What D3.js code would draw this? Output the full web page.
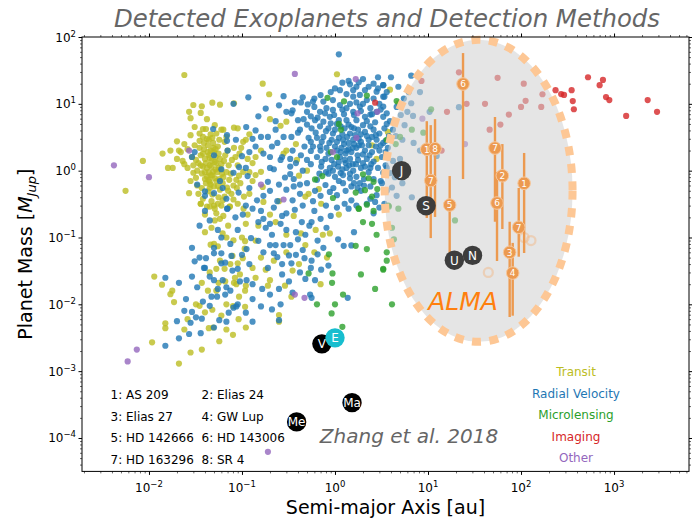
<!DOCTYPE html>
<html>
<head>
<meta charset="utf-8">
<script src="https://cdn.jsdelivr.net/npm/d3@7/dist/d3.min.js"></script>
<style>
  body { margin: 0; background: #fff; }
  svg { font-family: "DejaVu Sans", sans-serif; }
</style>
</head>
<body>
<div id="chart"></div>
<script>
// semi-major axis [au], planet mass [M_Jup]
const transit = [
  [0.024,27],[0.0056,0.5],[0.0086,1.4],
  [0.030,9.6],[0.037,9.2],[0.048,10.4],[0.058,9.7],[0.082,10.2],[0.027,7.6],[0.036,7.3],[0.028,6.1],[0.042,5.9],
  [0.031,4.5],[0.038,4.2],[0.041,4.2],[0.051,4.8],[0.060,4.1],[0.063,4.1],[0.082,4.4],[0.090,4.3],[0.028,3.4],
  [0.038,3.2],[0.046,3.5],[0.053,3.6],[0.035,2.8],[0.020,2.75],[0.024,2.5],[0.017,2.0],[0.014,1.8],[0.016,1.1],
  [0.018,1.1],[0.020,1.5],[0.022,1.9],[0.026,2.1],[0.023,1.4],[0.026,1.1],[0.024,1.25],[0.030,0.93],[0.033,1.0],
  [0.032,0.78],[0.037,0.91],[0.042,0.81],[0.045,0.68],[0.041,0.65],[0.038,1.15],[0.045,1.2],[0.053,1.3],[0.049,0.96],
  [0.051,0.77],[0.063,0.8],[0.073,0.73],[0.081,0.6],[0.087,0.73],[0.105,0.41],[0.093,0.84],[0.085,1.6],[0.078,1.45],
  [0.082,2.2],[0.065,2.7],[0.103,2.7],[0.110,2.9],[0.094,1.8],[0.103,0.96],[0.027,0.46],[0.036,0.32],[0.042,0.29],
  [0.050,0.30],[0.055,0.32],[0.045,0.55],[0.043,0.49],[0.048,0.44],[0.055,0.59],[0.074,0.29],[0.065,0.41],[0.081,0.37],
  [0.021,2.0],[0.040,1.5],[0.044,1.7],[0.047,1.4],[0.050,1.9],[0.052,1.6],[0.039,2.1],[0.043,2.4],[0.046,2.0],
  [0.055,2.3],[0.058,1.5],[0.036,1.7],[0.034,1.3],[0.042,1.1],[0.048,0.85],[0.052,1.05],[0.056,1.1],[0.060,1.25],
  [0.044,0.95],[0.040,0.75],[0.046,0.62],[0.050,0.58],[0.037,0.55],[0.033,0.6],[0.029,1.6],[0.031,2.4],[0.035,3.6],
  [0.044,2.9],[0.049,2.6],[0.057,2.9],[0.068,3.2],[0.070,2.0],[0.066,1.7],[0.072,1.2],[0.068,0.95],[0.062,0.65],
  [0.058,0.52],[0.071,0.5],[0.076,0.9],[0.090,1.2],[0.098,2.2],[0.115,1.5],[0.12,3.5],[0.13,0.7],
  [0.041,1.3],[0.043,1.9],[0.045,1.55],[0.047,1.15],[0.049,2.2],[0.051,1.35],[0.054,0.95],[0.056,1.8],[0.059,1.05],
  [0.038,1.8],[0.036,1.2],[0.040,0.95],[0.044,0.72],[0.046,0.85],[0.053,0.7],[0.057,0.75],[0.061,0.9],[0.064,1.4],
  [0.039,2.6],[0.042,3.0],[0.048,3.1],[0.052,2.1],[0.035,2.2],[0.032,1.45],[0.030,1.2],[0.028,0.7],[0.034,0.45],
  [0.038,0.38],[0.047,0.35],[0.056,0.4],[0.062,0.36],[0.069,0.56],[0.077,0.45],[0.088,0.55],[0.096,0.65],[0.12,0.95],
  [0.14,1.6],[0.16,2.0],[0.12,0.45],[0.20,0.22],[0.25,0.35],[0.15,0.15],[0.30,0.06],[0.22,0.045],[0.16,0.05],
  [0.13,0.035],[0.41,0.04],[0.60,0.06],[0.095,0.028],[0.075,0.04],[0.058,0.045],[0.032,0.01],[0.026,0.006],
  [0.024,0.0042],[0.035,0.0095],[0.060,0.0068],[0.080,0.0035],[0.11,0.0045],
  [0.0114,0.026],[0.0138,0.0197],[0.0178,0.016],[0.017,0.0142],[0.0186,0.0108],[0.015,0.0052],[0.015,0.0044],
  [0.0108,0.0027],[0.021,0.0013],[0.028,0.0019],[0.037,0.0021],[0.040,0.0076],[0.048,0.0083],[0.044,0.0044],
  [0.057,0.0028],[0.068,0.0042],[0.092,0.006],[0.068,0.01],[0.108,0.0092],[0.093,0.013],[0.037,0.021],[0.043,0.016],
  [0.053,0.016],[0.056,0.021],[0.066,0.022],[0.082,0.021],[0.087,0.020],[0.108,0.016],[0.110,0.019],[0.045,0.030],
  [0.053,0.034],[0.065,0.034],[0.046,0.078],[0.055,0.074],[0.079,0.053],[0.090,0.041],[0.102,0.049],[0.108,0.088],
  [0.081,0.091],[0.100,0.10],[0.040,0.12],[0.062,0.115],[0.068,0.10],[0.071,0.15],[0.047,0.14],[0.051,0.18],
  [0.058,0.19],[0.040,0.22],[0.053,0.23],[0.063,0.21],[0.045,0.29],[0.036,0.32],[0.051,0.27],[0.060,0.30],[0.074,0.29],
  [0.090,0.32],[0.104,0.27],[0.115,0.22],[0.110,0.16],[0.107,0.068],[0.084,0.025],[0.050,0.08],[0.080,0.0094],[0.049,0.0045],
  [1.05,27.7],[0.167,20],[0.196,13.9],[3.9,16.3],[0.20,5.9],[0.26,4.7],[0.30,5.4],[0.30,2.0],[0.28,1.8],[0.38,2.5],
  [0.39,1.45],[0.13,1.3],[0.50,1.0],[0.41,0.84],[0.16,0.96],[0.14,0.86],[0.167,0.57],[0.17,0.34],[0.48,0.41],[0.52,0.45],
  [0.67,0.53],[0.71,0.32],[2.5,2.4],[2.8,1.5],[0.30,0.11],[0.43,0.115],[0.62,0.13],[0.74,0.11],[0.88,0.115],[1.1,0.22],
  [0.36,0.21],[0.23,0.17],[0.14,0.09],[0.48,0.077],[0.35,0.032],[0.18,0.033],[0.14,0.025],[0.20,0.023],[0.19,0.019],
  [0.29,0.019],[0.70,0.020],[0.82,0.050],[0.34,0.013],[0.25,0.0069],[0.25,0.0055],[4.8,10.2],[3.7,3.8]
];
const radialVelocity = [
  [0.117,12.5],[0.081,10],[0.111,4.5],[0.049,4.2],[0.069,3.4],[0.069,2.8],[0.086,2.9],[0.070,2.0],[0.10,1.65],
  [0.115,0.83],[0.11,1.1],[0.093,1.13],[0.081,0.93],[0.060,1.05],[0.058,0.7],[0.062,0.55],[0.050,1.7],[0.031,1.9],
  [0.029,1.6],[0.033,0.62],[0.040,0.49],[0.040,0.42],[0.050,0.46],[0.068,0.38],[0.070,0.27],[0.092,0.47],
  [0.029,0.07],[0.031,0.044],[0.041,0.049],[0.039,0.035],[0.029,0.026],[0.021,0.021],[0.015,0.025],[0.050,0.058],
  [0.060,0.058],[0.060,0.10],[0.050,0.07],[0.077,0.053],[0.060,0.041],[0.066,0.042],[0.079,0.032],[0.090,0.034],
  [0.062,0.023],[0.068,0.018],[0.055,0.017],[0.045,0.026],[0.050,0.023],[0.047,0.013],[0.054,0.013],[0.066,0.014],
  [0.081,0.0089],[0.090,0.010],[0.087,0.0093],[0.112,0.023],[0.112,0.067],[0.102,0.22],[0.069,0.27],[0.040,0.25],
  [0.029,0.0077],[0.032,0.0064],[0.037,0.0061],[0.020,0.0056],[0.028,0.0053],[0.027,0.0036],[0.036,0.0037],
  [0.021,0.0031],[0.015,0.0024],[0.057,0.0058],[0.068,0.0055],[0.050,0.0045],
  [0.13,0.27],[0.15,0.17],[0.17,0.19],[0.20,0.16],[0.27,0.21],[0.30,0.23],[0.37,0.26],[0.26,0.16],[0.44,0.17],
  [0.53,0.15],[0.56,0.17],[0.70,0.19],[0.90,0.21],[0.81,0.14],[1.08,0.094],[1.24,0.075],[1.5,0.076],[1.6,0.12],
  [1.4,0.27],[2.2,0.32],[2.6,0.23],[0.125,0.098],[0.15,0.089],[0.17,0.06],[0.20,0.077],[0.23,0.077],[0.22,0.058],
  [0.24,0.051],[0.28,0.077],[0.33,0.077],[0.32,0.054],[0.34,0.041],[0.40,0.094],[0.47,0.049],[0.56,0.045],[0.65,0.056],
  [0.48,0.024],[0.61,0.023],[0.71,0.033],[0.32,0.022],[0.25,0.017],[0.165,0.017],[0.13,0.012],[0.16,0.0093],
  [0.21,0.0084],[0.26,0.010],[0.35,0.015],[0.54,0.014],[0.56,0.0125],[1.37,0.0125],[0.13,0.0055],[0.25,0.0058],
  [0.18,0.14],[0.21,0.11],[0.30,0.13],[0.38,0.12],[0.48,0.11],[0.65,0.09],[0.75,0.07],[0.45,0.065],[0.38,0.055],
  [0.27,0.04],[0.19,0.035],[0.12,0.04],[0.10,0.055],[0.095,0.022],[0.13,0.02],[0.42,0.03],[0.55,0.035],[0.85,0.038],
  [0.27,0.028],[0.20,0.014],[0.11,0.0075],[0.075,0.016],[0.038,0.011],[0.033,0.018],[0.025,0.012],[0.024,0.008],
  [0.045,0.0095],[0.072,0.0075],[0.040,0.035],[0.035,0.05],[0.075,0.08],[0.09,0.13],[0.085,0.2],[0.055,0.13],
  [0.035,0.15],[0.045,0.18],
  [1.1,55],[1.2,20.7],[1.45,19.6],[1.7,18],[2.0,23.5],[2.6,20],[3.3,19],[0.37,10.6],[0.43,10.5],[0.51,9.8],[0.60,9.0],
  [0.30,7.6],[0.35,8.0],[0.46,5.9],[0.40,3.7],[0.23,5.5],[0.14,4.0],[0.21,2.3],[0.33,1.5],[0.50,1.45],[0.55,1.97],
  [0.22,1.05],[0.33,0.89],[0.29,0.79],[0.19,0.68],[0.145,0.36],[0.24,0.35],[0.42,0.45],[0.61,0.50],[0.79,0.61],
  [0.96,0.55],[1.05,0.43],[1.27,0.32],[1.5,0.36],[2.7,0.34],[3.3,0.93],[2.4,1.1],
  [1.33,14],[1.57,12.8],[1.85,13.6],[2.2,11.4],[1.13,9.6],[0.95,8.1],[0.81,8.6],[0.69,7.6],[1.33,8.6],[1.57,7.6],
  [1.85,9.1],[2.4,8.6],[2.8,7.6],[3.3,6.4],[2.1,6.4],[1.7,5.7],[1.33,5.7],[1.1,5.7],[0.88,6.4],[0.75,5.4],[0.61,5.7],
  [0.56,4.3],[0.69,4.6],[0.85,4.3],[1.0,4.1],[1.27,4.3],[1.45,3.6],[1.77,4.1],[2.1,3.8],[2.6,4.1],[3.0,3.6],[3.4,4.3],
  [0.52,3.1],[0.64,3.1],[0.75,3.2],[0.92,2.9],[1.1,3.1],[1.22,2.9],[1.4,2.6],[1.57,2.9],[1.9,2.7],[2.3,2.9],[2.8,2.9],
  [3.3,2.6],[0.47,2.3],[0.58,2.3],[0.69,2.3],[0.81,2.2],[1.0,2.3],[1.17,2.2],[1.33,2.0],[1.5,1.9],[1.7,2.2],[2.1,2.0],
  [2.5,1.9],[3.0,2.0],[0.64,1.6],[0.79,1.5],[0.92,1.45],[1.13,1.6],[1.27,1.45],[1.45,1.5],[1.77,1.45],[2.2,1.5],
  [2.6,1.37],[0.71,1.15],[0.88,1.1],[1.08,1.15],[1.33,1.1],[1.57,1.0],[1.9,1.1],[1.0,0.81],[1.22,0.86],[1.45,0.77],
  [1.7,0.81],[1.22,0.65],[1.5,0.58],[1.85,0.65],[2.4,0.58],[2.8,0.43],[0.64,0.73],[0.50,0.65],[0.36,0.58],[0.30,0.52],
  [0.38,1.3],[0.45,1.0],[0.33,1.15],[0.26,1.45],[0.20,1.6],[0.17,1.8],[0.14,2.3],[0.16,3.2],[0.19,3.2],[0.23,4.1],
  [0.28,3.2],[0.34,3.2],[0.42,4.1],[0.40,5.7],[0.34,7.2],[0.50,7.6],[0.58,10.8],[0.75,10.8],[0.95,11.4],[1.13,16],
  [1.57,16],[2.1,16],[2.8,15.2],[3.3,12.8],[3.3,9.1],
  [1.2,3.5],[1.35,3.2],[1.5,4.5],[1.65,3.4],[1.8,3.0],[1.95,2.4],[1.6,2.5],[1.25,2.5],[1.4,2.1],[1.15,1.9],[1.05,2.7],
  [0.95,3.6],[1.75,1.7],[2.0,1.3],[1.55,1.25],[1.3,1.3],[1.1,1.35],[0.85,1.8],[0.72,2.7],[2.3,2.4],[2.5,3.2],[2.0,4.8],
  [1.6,6.8],[1.25,7.0],[1.05,5.0],[2.7,5.3],[2.4,6.9],[3.0,10],[2.6,12],[2.0,10],[1.7,10.5],[0.95,1.0],[1.45,0.9],
  [2.05,0.75],[2.3,0.95],[1.9,0.5],[1.1,0.7],[0.85,0.9],
  [0.6,12],[0.7,13.5],[0.9,15],[1.0,17],[1.4,22],[1.8,21],[2.3,18],[2.9,17],[3.6,15],[0.45,12.5],[0.55,6.5],[0.65,6.2],
  [0.78,7.2],[0.98,6.8],[1.2,8.2],[1.45,10],[1.9,7.8],[2.2,5.5],[2.5,7.0],[3.1,8.2],[3.6,5.0],[3.8,3.3],[0.5,4.9],
  [0.62,3.7],[0.8,3.9],[0.9,5.1],[1.15,4.6],[1.4,4.9],[1.6,4.3],[1.9,3.5],[2.2,3.3],[2.4,4.6],[2.75,3.4],[3.1,2.4],
  [3.5,2.8],[0.55,2.7],[0.7,2.0],[0.87,2.6],[1.05,2.0],[1.3,1.8],[1.55,2.2],[1.8,2.4],[2.0,1.75],[2.35,1.7],[2.75,2.3],
  [3.2,1.6],[3.5,1.9],[0.55,1.25],[0.72,1.35],[0.98,1.25],[1.2,1.05],[1.42,1.2],[1.68,1.25],[2.1,1.15],[2.45,1.25],
  [2.9,1.1],[3.5,1.2],[0.8,0.95],[0.68,0.9],[1.15,0.92],[1.6,0.65],[1.75,0.55],[2.05,0.6],[2.6,0.75],[3.1,0.7],[3.6,0.5],
  [1.3,0.5],[0.88,0.48],[0.7,0.42],[0.58,0.35],[0.8,0.3],[1.05,0.28],[1.7,0.3],[2.4,0.38],[3.0,0.28],[0.2,0.5],
  [0.17,0.42],[0.25,0.62],[0.12,0.55],[0.11,0.3],[0.16,0.25],[0.22,0.28],[0.35,0.36],[0.45,0.3],[0.6,0.25],[0.12,1.9],
  [0.13,3.0],[0.15,6.5],[0.18,8.5],[0.25,9.5],[0.28,13],[0.2,1.1],[0.24,2.6],[0.27,1.6],[0.35,2.0],[0.43,1.7],
  [0.36,0.75],[0.42,0.62],
  [6.6,26.4],[8.2,15],[6.2,15],[6.6,10.2],[6.9,6.6],[6.0,7.6],[5.1,6.8],[7.0,2.6],[8.2,2.0],[12.4,1.66],[6.7,0.40],
  [5.3,0.65],[4.6,0.42],[4.1,0.56],[5.3,2.9],[4.2,4.1],[3.6,7.2],[3.3,19],[4.8,18],[3.4,12.8],[4.2,1.4],[5.0,1.5],
  [3.9,0.92],[3.2,0.65],[3.4,0.32],[21.5,8.9],[10.4,7.6],[3.7,2.2],[4.5,3.3],[3.6,1.1],[4.4,0.8],[3.9,5.5],[4.6,9],
  [5.6,4.8],[4.0,25],[2.9,25],[5.5,12]
];
const microlensing = [
  [0.83,12.3],[1.25,10.9],[2.2,13.3],[0.95,0.39],[0.73,0.83],[0.61,0.74],[1.67,0.47],[2.1,0.51],[1.8,0.27],[2.2,0.31],
  [2.5,0.41],[2.85,0.53],[2.6,0.68],[2.3,0.77],[3.75,0.30],[2.0,0.88],[1.05,1.6],[0.90,1.9],[1.16,4.1],[1.1,5.0],
  [0.86,0.056],[0.94,0.029],[0.93,0.021],[0.52,0.029],[1.22,0.014],[0.64,0.010],[0.92,0.0073],[1.0,0.010],[1.67,0.075],
  [1.9,0.028],[2.2,0.067],[2.7,0.017],[3.3,0.033],[4.1,0.010],[3.6,0.045],[3.6,0.060],[2.8,0.11],[2.5,0.16],[2.0,0.17],
  [1.8,0.27],[2.6,0.25],[1.2,0.0046],[10.8,8.3],[19.5,0.18],[4.3,0.094],[4.1,0.14],[3.8,0.29],[4.8,0.27],[4.5,2.5],
  [3.6,2.9],[5.0,3.2],[6.7,4.1],[8.9,3.7],[4.6,11],[3.3,0.034]
];
const imaging = [
  [2.7,10.4],[21.5,29.6],[8.5,22],[56,24.5],[107,20],[26,10],[41,10],[16,7.6],[112,11.1],[170,13.9],[165,9.0],
  [100,9.0],[74,6.9],[60,4.9],[46,4.1],[14,2.0],[235,16],[270,14],[290,13.6],[350,16],[360,11],[370,8.3],
  [525,25],[760,22.8],[700,19],[820,12.6],[890,11.4],[1350,6.6],[2300,11.4],[2900,7.6]
];
const other = [
  [0.0042,1.2],[0.010,0.8],[0.027,2.0],[0.0074,0.0021],[0.0059,0.0014],[0.37,28],[1.67,23.5],[0.16,0.62],[0.28,0.37],
  [1.7,3.1],[0.95,1.9],[2.85,7.6],[1.75,7.2],[0.37,0.014],[0.47,0.0125],[0.19,6.2e-5],[25,2.5],[8.7,6.0]
];

const methodNames = ["Transit", "Radial Velocity", "Microlensing", "Imaging", "Other"];
const methodColors = ["#bcbd22", "#1f77b4", "#2ca02c", "#d62728", "#9467bd"];
const methodData = [transit, radialVelocity, microlensing, imaging, other];

// ALMA candidate planets: label, a, mass, mass low, mass high
const almaLabels = ["6", "1", "8", "7", "5", "7", "2", "6", "1", "7", "3", "4"];
const almaA = [23.8, 9.7, 11.9, 10.7, 17.1, 52.5, 63, 55.2, 108, 94.5, 75.5, 81.4];
const almaMass = [19.8, 2.09, 2.13, 0.71, 0.306, 2.18, 0.84, 0.328, 0.647, 0.142, 0.060, 0.0294];
const almaLow = [0.75, 0.196, 0.203, 0.098, 0.046, 0.172, 0.134, 0.0445, 0.0586, 0.0516, 0.00646, 0.00676];
const almaHigh = [57.5, 5.5, 5.9, 4.8, 0.83, 6.35, 2.5, 0.955, 1.84, 0.551, 0.172, 0.083];
const almaRings = [[108, 0.1], [128, 0.09], [44.5, 0.030]];

const solarNames = ["Me", "V", "E", "Ma", "J", "S", "U", "N"];
const solarA = [0.387, 0.723, 1.0, 1.524, 5.2, 9.54, 19.2, 30.1];
const solarMass = [1.74e-4, 2.56e-3, 3.15e-3, 3.38e-4, 1.0, 0.299, 0.0457, 0.054];
const solarColors = ["#000", "#000", "#17becf", "#000", "#3d3d3d", "#3d3d3d", "#3d3d3d", "#3d3d3d"];

const keyLabels = ["1: AS 209", "2: Elias 24", "3: Elias 27", "4: GW Lup",
                   "5: HD 142666", "6: HD 143006", "7: HD 163296", "8: SR 4"];

const xTicks = [-2, -1, 0, 1, 2, 3];
const yTicks = [2, 1, 0, -1, -2, -3, -4];

// ALMA sensitivity region, in decades around its centre
const almaCenter = [35, 0.5];
const almaHalfDex = [1.01, 2.26];

const W = 692, H = 521;
const margin = { top: 37, right: 3, bottom: 49.6, left: 82 };
const width = W - margin.left - margin.right;
const height = H - margin.top - margin.bottom;

const svg = d3.select('#chart').append('svg')
  .attr('width', W).attr('height', H);

svg.append('text')
  .attr('x', 387).attr('y', 27)
  .attr('text-anchor', 'middle')
  .attr('font-size', '24.4px').attr('font-style', 'italic')
  .attr('fill', '#666')
  .text('Detected Exoplanets and Detection Methods');

const g = svg.append('g')
  .attr('transform', `translate(${margin.left},${margin.top})`);

const x = d3.scaleLog().domain([Math.pow(10, -2.72), Math.pow(10, 3.806)]).range([0, width]);
const y = d3.scaleLog().domain([Math.pow(10, -4.5), 100]).range([height, 0]);

// scatter of known planets
methodData.forEach((data, i) => {
  g.append('g').selectAll('circle')
    .data(data)
    .enter().append('circle')
    .attr('cx', d => x(d[0]))
    .attr('cy', d => y(d[1]))
    .attr('r', 3.1)
    .attr('fill', methodColors[i])
    .attr('fill-opacity', 0.8);
});

// ALMA ellipse
const cx = x(almaCenter[0]), cy = y(almaCenter[1]);
const rx = x(almaCenter[0] * Math.pow(10, almaHalfDex[0])) - cx;
const ry = cy - y(almaCenter[1] * Math.pow(10, almaHalfDex[1]));
g.append('ellipse')
  .attr('cx', cx).attr('cy', cy).attr('rx', rx).attr('ry', ry)
  .attr('fill', '#cfcfcf').attr('fill-opacity', 0.55);
g.append('ellipse')
  .attr('cx', cx).attr('cy', cy).attr('rx', rx).attr('ry', ry)
  .attr('fill', 'none')
  .attr('stroke', '#fdc795')
  .attr('stroke-width', 8)
  .attr('stroke-dasharray', '9,8.5');

g.append('text')
  .attr('x', x(23.8)).attr('y', y(0.0082))
  .attr('text-anchor', 'middle')
  .attr('font-size', '25px').attr('font-style', 'italic')
  .attr('fill', '#ff7f0e')
  .text('ALMA');

// faint rings
g.append('g').selectAll('circle')
  .data(almaRings)
  .enter().append('circle')
  .attr('cx', d => x(d[0])).attr('cy', d => y(d[1]))
  .attr('r', 4.5)
  .attr('fill', 'none')
  .attr('stroke', '#f2b98a').attr('stroke-opacity', 0.5)
  .attr('stroke-width', 2.2);

// ALMA planets with error bars
const orange = '#ec9a50';
g.append('g').selectAll('line')
  .data(almaLabels.map((d, i) => i))
  .enter().append('line')
  .attr('x1', i => x(almaA[i])).attr('x2', i => x(almaA[i]))
  .attr('y1', i => y(almaLow[i])).attr('y2', i => y(almaHigh[i]))
  .attr('stroke', orange).attr('stroke-width', 2.4);

const ap = g.append('g').selectAll('g')
  .data(almaLabels.map((d, i) => i))
  .enter().append('g')
  .attr('transform', i => `translate(${x(almaA[i])},${y(almaMass[i])})`);
ap.append('circle')
  .attr('r', 6.3)
  .attr('fill', orange)
  .attr('stroke', '#f7c89c').attr('stroke-width', 1);
ap.append('text')
  .attr('y', 3.3)
  .attr('text-anchor', 'middle')
  .attr('font-size', '9px')
  .attr('fill', '#fff')
  .text(i => almaLabels[i]);

// solar system planets
const sp = g.append('g').selectAll('g')
  .data(solarNames.map((d, i) => i))
  .enter().append('g')
  .attr('transform', i => `translate(${x(solarA[i])},${y(solarMass[i])})`);
sp.append('circle')
  .attr('r', 9.7)
  .attr('fill', i => solarColors[i]);
sp.append('text')
  .attr('y', 4.3)
  .attr('text-anchor', 'middle')
  .attr('font-size', '12px')
  .attr('fill', '#fff')
  .text(i => solarNames[i]);

// axes: ticks on all four sides
const xMajor = xTicks.map(p => Math.pow(10, p));
const yMajor = yTicks.map(p => Math.pow(10, p));
const xMinor = [], yMinor = [];
for (let p = -3; p <= 3; p++) for (let k = 2; k <= 9; k++) {
  const v = k * Math.pow(10, p);
  if (v > x.domain()[0] && v < x.domain()[1]) xMinor.push(v);
}
for (let p = -5; p <= 1; p++) for (let k = 2; k <= 9; k++) {
  const v = k * Math.pow(10, p);
  if (v > y.domain()[0] && v < y.domain()[1]) yMinor.push(v);
}

function addAxis(axisFn, scale, transform) {
  g.append('g').attr('transform', transform)
    .call(axisFn(scale).tickValues(scale === x ? xMajor : yMajor).tickFormat('').tickSize(3.5).tickSizeOuter(0))
    .call(a => a.select('.domain').remove());
  g.append('g').attr('transform', transform)
    .call(axisFn(scale).tickValues(scale === x ? xMinor : yMinor).tickFormat('').tickSize(2).tickSizeOuter(0))
    .call(a => a.select('.domain').remove())
    .selectAll('line').attr('stroke-width', 0.6);
}
addAxis(d3.axisBottom, x, `translate(0,${height})`);
addAxis(d3.axisTop, x, 'translate(0,0)');
addAxis(d3.axisLeft, y, 'translate(0,0)');
addAxis(d3.axisRight, y, `translate(${width},0)`);

g.append('rect')
  .attr('width', width).attr('height', height)
  .attr('fill', 'none').attr('stroke', '#000').attr('stroke-width', 1);

// tick labels 10^n
xTicks.forEach(p => {
  const t = g.append('text')
    .attr('x', x(Math.pow(10, p))).attr('y', height + 21)
    .attr('text-anchor', 'middle')
    .attr('font-size', '12px').attr('fill', '#000');
  t.append('tspan').text('10');
  t.append('tspan').attr('dy', -5).attr('font-size', '8.5px').text(p < 0 ? '\u2212' + (-p) : String(p));
});
yTicks.forEach(p => {
  const t = g.append('text')
    .attr('x', -6).attr('y', y(Math.pow(10, p)) + 4.5)
    .attr('text-anchor', 'end')
    .attr('font-size', '12px').attr('fill', '#000');
  t.append('tspan').text('10');
  t.append('tspan').attr('dy', -5).attr('font-size', '8.5px').text(p < 0 ? '\u2212' + (-p) : String(p));
});

// axis titles
svg.append('text')
  .attr('x', margin.left + width / 2).attr('y', 514)
  .attr('text-anchor', 'middle')
  .attr('font-size', '19px')
  .text('Semi-major Axis [au]');

const yl = svg.append('text')
  .attr('transform', `translate(32,${margin.top + height / 2}) rotate(-90)`)
  .attr('text-anchor', 'middle')
  .attr('font-size', '19px');
yl.append('tspan').text('Planet Mass [');
yl.append('tspan').attr('font-style', 'italic').text('M');
yl.append('tspan').attr('font-style', 'italic').attr('font-size', '13px').attr('dy', 4).text('Jup');
yl.append('tspan').attr('dy', -4).text(']');

// method legend
methodNames.forEach((name, i) => {
  svg.append('text')
    .attr('x', 576).attr('y', 376 + i * 21.6)
    .attr('text-anchor', 'middle')
    .attr('font-size', '12px')
    .attr('fill', methodColors[i])
    .text(name);
});

// disc key
keyLabels.forEach((label, i) => {
  svg.append('text')
    .attr('x', i % 2 === 0 ? 110.5 : 201.5)
    .attr('y', 399 + Math.floor(i / 2) * 21.7)
    .attr('font-size', '12px')
    .attr('fill', '#000')
    .text(label);
});

svg.append('text')
  .attr('x', 409).attr('y', 443)
  .attr('text-anchor', 'middle')
  .attr('font-size', '20px').attr('font-style', 'italic')
  .attr('fill', '#666')
  .text('Zhang et al. 2018');
</script>
</body>
</html>
